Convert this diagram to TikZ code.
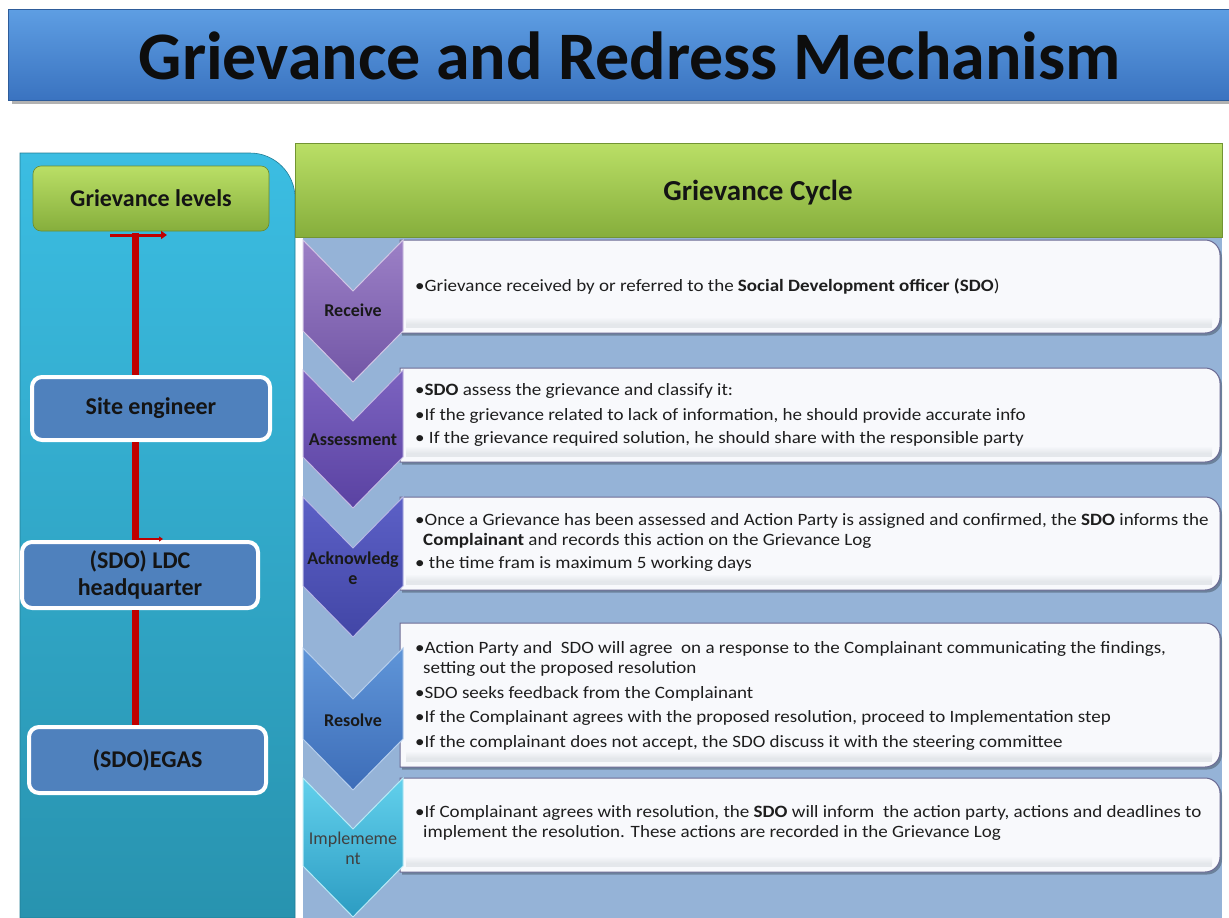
\documentclass[tikz,border=0pt]{standalone}
\usepackage{fontspec}
\setmainfont{Carlito}
\newfontfamily\bodyfont[FakeStretch=1.1]{Carlito}
\usetikzlibrary{arrows.meta}
\definecolor{titletop}{HTML}{5E9EE3}
\definecolor{titlebot}{HTML}{3A73C0}
\definecolor{cyantop}{HTML}{3BBDE2}
\definecolor{cyanbot}{HTML}{2893AF}
\definecolor{greentop}{HTML}{BADF66}
\definecolor{greenbot}{HTML}{86AE3C}
\definecolor{panelblue}{HTML}{95B3D7}
\definecolor{levelblue}{HTML}{4F81BD}
\definecolor{redc}{HTML}{C00000}
\definecolor{boxfill}{HTML}{F8F9FC}
\definecolor{boxline}{HTML}{6B6B94}
\definecolor{bandgrey}{HTML}{E4E7EB}
\definecolor{txt}{HTML}{1E1E1E}
\definecolor{cAt}{HTML}{9C80C6}\definecolor{cAb}{HTML}{7256A6}
\definecolor{cBt}{HTML}{7C63C0}\definecolor{cBb}{HTML}{5A42A2}
\definecolor{cCt}{HTML}{5C60C6}\definecolor{cCb}{HTML}{4246A6}
\definecolor{cDt}{HTML}{5F95D8}\definecolor{cDb}{HTML}{3D6DB8}
\definecolor{cEt}{HTML}{62D0EC}\definecolor{cEb}{HTML}{2C9CC2}
\newcommand\mychev[4]{%
  \path[top color=#3,bottom color=#4,draw=white!55!#3,line width=1pt]
    (303,#1) -- (353,#1+51) -- (403,#1) -- (403,#2-51) -- (353,#2) -- (303,#2-51) -- cycle;}
\newcommand\mytxtbox[2]{%
  \fill[black,opacity=.28] (402,#1+2.5) -- (1207,#1+2.5) arc[start angle=-90,end angle=0,radius=15] -- (1222,#2-12.5) arc[start angle=0,end angle=90,radius=15] -- (402,#2+2.5) -- cycle;
  \path[fill=boxfill,draw=boxline,line width=1pt] (400,#1) -- (1205,#1) arc[start angle=-90,end angle=0,radius=15] -- (1220,#2-15) arc[start angle=0,end angle=90,radius=15] -- (400,#2) -- cycle;
  \fill[top color=boxfill,bottom color=bandgrey] (406,#2-16) rectangle (1212,#2-9);
  \fill[bandgrey] (406,#2-9) rectangle (1212,#2-5);}
\tikzset{
  levelbox/.style={draw=white,line width=4pt,fill=levelblue,rounded corners=10pt,
    font=\bfseries\fontsize{24}{27}\selectfont,text=black!92,align=center,inner sep=0pt},
  chevlabel/.style={font=\bfseries\fontsize{18}{20}\selectfont,text=black!90,align=center,inner sep=0pt},
  bodytxt/.style={anchor=base west,font=\bodyfont\fontsize{17.3}{20}\selectfont,text=txt,inner sep=0pt},
  redline/.style={draw=redc,line width=7pt},
}
\begin{document}
\begin{tikzpicture}[x=1pt,y=-1pt]
\useasboundingbox (0,0) rectangle (1229,918);
\fill[white] (0,0) rectangle (1229,918);
% title bar
\fill[black,opacity=.3] (12,14) rectangle (1229,104);
\path[top color=titletop,bottom color=titlebot,draw=titlebot!80!black,line width=.6pt] (8,9) rectangle (1229,100);
\node[font=\bfseries\fontsize{68}{70}\selectfont,text=black!95] (title) at (630,56) {Grievance and Redress Mechanism};
% left panel
\path[top color=cyantop,bottom color=cyanbot,draw=cyanbot!85!black,line width=.6pt]
  (20,918) -- (20,153) -- (250,153) arc[start angle=-90,end angle=0,radius=45] -- (295,918) -- cycle;
% right panel background
\fill[panelblue] (303,237) rectangle (1222,918);
% green header
\path[top color=greentop,bottom color=greenbot,draw=greenbot!85!black,line width=.6pt] (295,143) rectangle (1222,237);
\node[font=\bfseries\fontsize{29}{32}\selectfont,text=black!92] (cycle) at (758,193) {Grievance Cycle};
% text boxes
\mytxtbox{240}{333}
\mytxtbox{368}{462}
\mytxtbox{497}{590}
\mytxtbox{623}{767}
\mytxtbox{778}{872}
% chevrons
\mychev{240}{382}{cAt}{cAb}
\mychev{370}{508}{cBt}{cBb}
\mychev{497}{637}{cCt}{cCb}
\mychev{648}{790}{cDt}{cDb}
\mychev{778}{917}{cEt}{cEb}
\node[chevlabel] (receive) at (353,310) {Receive};
\node[chevlabel] (assess) at (353,440) {Assessment};
\node[chevlabel] (ack) at (353,568) {Acknowledg\\e};
\node[chevlabel] (resolve) at (353,720) {Resolve};
\node[chevlabel,font=\fontsize{18}{20}\selectfont,text=black!75] (impl) at (353,848) {Implememe\\nt};
% left levels
\coordinate (rtop) at (135,233);
\node[rounded corners=8pt,top color=greentop,bottom color=greenbot,draw=greenbot!80!black,line width=.6pt,
  minimum width=236pt,minimum height=65pt,font=\bfseries\fontsize{24}{27}\selectfont,text=black!92] (glevels) at (151,198.5) {Grievance levels};
\node[levelbox,minimum width=238pt,minimum height=63pt] (site) at (151,408.5) {Site engineer};
\node[levelbox,minimum width=236pt,minimum height=66pt] (ldc) at (140,575) {(SDO) LDC\\headquarter};
\node[levelbox,minimum width=237pt,minimum height=66pt] (egas) at (147.5,760) {(SDO)EGAS};
\draw[redc,line width=3pt,-{Triangle[length=6pt,width=8pt]}] (110,235) -- (167,235);
\draw[redline] (rtop) -- (rtop |- site.north);
\draw[redline] (rtop |- site.south) -- (rtop |- ldc.north);
\draw[redline] (rtop |- ldc.south) -- (rtop |- egas.north);
\draw[redc,line width=2pt,-{Triangle[length=4pt,width=5pt]}] (138,539) -- (163,539);
% body text
\node[bodytxt] (t11) at (415,291) {•Grievance received by or referred to the \textbf{Social Development officer (SDO})};
\node[bodytxt] (t21) at (415,395) {•\textbf{SDO} assess the grievance and classify it:};
\node[bodytxt] (t22) at (415,420) {•If the grievance related to lack of information, he should provide accurate info};
\node[bodytxt] (t23) at (415,443) {• If the grievance required solution, he should share with the responsible  party};
\node[bodytxt] (t31) at (415,525) {•Once a Grievance has been assessed and Action Party is assigned and confirmed, the \textbf{SDO} informs the};
\node[bodytxt] (t32) at (423,545) {\textbf{Complainant} and records this action on the Grievance Log};
\node[bodytxt] (t33) at (415,568) {• the time fram is maximum 5 working days};
\node[bodytxt] (t41) at (415,653) {•Action Party and\ \ SDO will agree\ \ on a response to the Complainant communicating the findings,};
\node[bodytxt] (t42) at (423,673) {setting out the proposed resolution};
\node[bodytxt] (t43) at (415,698) {•SDO seeks feedback from the Complainant};
\node[bodytxt] (t44) at (415,722) {•If the Complainant agrees with the proposed resolution, proceed to Implementation step};
\node[bodytxt] (t45) at (415,747) {•If the complainant does not accept, the SDO discuss it with the steering committee};
\node[bodytxt] (t51) at (415,817) {•If Complainant agrees with resolution, the \textbf{SDO} will inform\ \ the action party, actions and deadlines to};
\node[bodytxt] (t52) at (423,837) {implement the resolution. These actions are recorded in the Grievance Log};
\end{tikzpicture}
\end{document}
